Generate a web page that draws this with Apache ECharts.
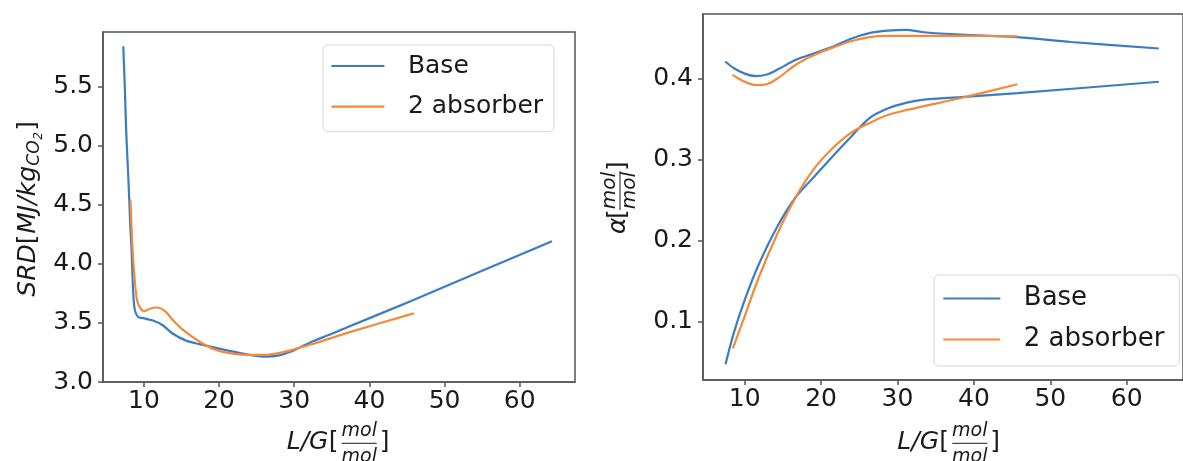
<!DOCTYPE html>
<html>
<head>
<meta charset="utf-8">
<script src="https://cdn.jsdelivr.net/npm/echarts@6/dist/echarts.min.js"></script>
<style>
  html, body { margin: 0; padding: 0; background: #fff; }
  #chart { width: 1183px; height: 461px; }
</style>
</head>
<body>
<div id="chart"></div>
<script>
// legend names
const seriesNames = ["Base", "2 absorber"];

// tick labels
const xTicks = [10, 20, 30, 40, 50, 60];
const srdTicks = [3.0, 3.5, 4.0, 4.5, 5.0, 5.5];
const alphaTicks = [0.1, 0.2, 0.3, 0.4];

// left panel: SRD vs L/G
const srdBase = [
  [7.25, 5.84], [7.45, 5.5], [7.63, 5.13], [7.94, 4.70], [8.21, 4.28], [8.34, 4.14],
  [8.55, 3.78], [8.78, 3.61], [9.22, 3.55], [9.89, 3.54], [11.2, 3.52], [12.5, 3.48],
  [13.8, 3.41], [15.6, 3.35], [17.4, 3.32], [20.9, 3.27], [24.0, 3.23], [26.2, 3.215],
  [28.0, 3.225], [29.5, 3.255], [31.0, 3.30], [32.5, 3.345], [34.5, 3.395], [37.3, 3.47],
  [45.0, 3.67], [55.0, 3.94], [64.3, 4.19]
];
const srdTwoAbs = [
  [8.2, 4.54], [8.47, 4.14], [8.78, 3.86], [9.09, 3.69], [9.67, 3.61], [10.1, 3.60],
  [10.8, 3.62], [11.7, 3.63], [12.8, 3.60], [13.9, 3.52], [15.2, 3.44], [17.4, 3.34],
  [19.6, 3.27], [21.8, 3.24], [24.0, 3.23], [26.2, 3.23], [28.4, 3.25], [30.7, 3.29],
  [32.9, 3.33], [37.3, 3.42], [45.9, 3.58]
];

// right panel: loading vs L/G (upper = rich, lower = lean)
const alphaBaseRich = [
  [7.46, 0.421], [8.56, 0.413], [10.0, 0.406], [11.44, 0.403], [12.9, 0.405], [14.3, 0.411],
  [16.7, 0.423], [19.1, 0.431], [21.5, 0.439], [23.9, 0.449], [26.3, 0.456], [28.7, 0.459],
  [31.1, 0.460], [33.5, 0.457], [38.3, 0.454], [45.7, 0.451], [52.7, 0.445], [64.2, 0.437]
];
const alphaTwoRich = [
  [8.42, 0.4045], [10.0, 0.396], [11.44, 0.392], [12.9, 0.393], [14.3, 0.400], [16.7, 0.417],
  [19.1, 0.429], [21.5, 0.438], [23.9, 0.446], [26.3, 0.451], [28.7, 0.4526], [31.1, 0.4526],
  [38.3, 0.4526], [45.7, 0.452]
];
const alphaBaseLean = [
  [7.5, 0.048], [8.56, 0.086], [10.0, 0.127], [11.9, 0.172], [14.3, 0.218], [16.7, 0.254],
  [19.1, 0.279], [21.5, 0.304], [23.9, 0.328], [26.3, 0.351], [28.7, 0.363], [31.1, 0.370],
  [33.5, 0.374], [38.3, 0.377], [45.7, 0.382], [64.2, 0.396]
];
const alphaTwoLean = [
  [8.46, 0.0675], [10.0, 0.107], [11.9, 0.156], [14.3, 0.209], [16.7, 0.254], [19.1, 0.289],
  [21.5, 0.314], [23.9, 0.333], [26.3, 0.345], [28.7, 0.355], [31.1, 0.361], [33.5, 0.366],
  [38.3, 0.376], [45.7, 0.393]
];

const FONT = "DejaVu Sans";
const BLUE = "#3b7dc2";
const ORANGE = "#f5893a";
const SPINE = "#555";
const INK = "#1a1a1a";

function xAxisOf(idx) {
  return {
    type: "value", gridIndex: idx, min: 4.55, max: 67.36,
    axisLine: { show: true, lineStyle: { color: SPINE, width: 1.5 } },
    axisTick: { show: true, length: 5, lineStyle: { color: SPINE, width: 1.5 }, customValues: xTicks },
    axisLabel: { customValues: xTicks, fontSize: 25, fontFamily: FONT, color: INK, margin: 7 },
    splitLine: { show: false }
  };
}

function yAxisOf(idx, min, max, ticks) {
  return {
    type: "value", gridIndex: idx, min: min, max: max,
    axisLine: { show: true, lineStyle: { color: SPINE, width: 1.5 } },
    axisTick: { show: true, length: 5, lineStyle: { color: SPINE, width: 1.5 }, customValues: ticks },
    axisLabel: {
      customValues: ticks, fontSize: 25, fontFamily: FONT, color: INK, margin: 10,
      formatter: function (v) { return v.toFixed(1); }
    },
    splitLine: { show: false }
  };
}

function lineOf(name, data, color, idx) {
  return {
    name: name, type: "line", xAxisIndex: idx, yAxisIndex: idx,
    data: data, symbol: "none", smooth: 0.3,
    lineStyle: { width: 2.2, color: color }, itemStyle: { color: color },
    emphasis: { disabled: true }
  };
}

function legendOf(left, top, size, lineW, gap, pad) {
  return {
    left: left, top: top, orient: "vertical", data: seriesNames,
    icon: "rect", itemWidth: lineW, itemHeight: 2.2, itemGap: gap, padding: pad,
    selectedMode: false,
    textStyle: { fontSize: size, lineHeight: size + 5, fontFamily: FONT, color: INK, padding: [0, 0, 0, 18.5] },
    backgroundColor: "rgba(255,255,255,0.8)", borderColor: "#d6d6d6", borderWidth: 1, borderRadius: 5
  };
}

function txt(x, y, text, size, italic, align) {
  return {
    type: "text", x: x, y: y, silent: true,
    style: {
      text: text, fontSize: size, fontFamily: FONT, fontStyle: italic ? "italic" : "normal",
      fill: INK, align: align || "left", verticalAlign: "middle"
    }
  };
}

function rule(x1, x2, y) {
  return { type: "line", silent: true, shape: { x1: x1, y1: y, x2: x2, y2: y }, style: { stroke: INK, lineWidth: 1 } };
}

// "L/G[mol/mol]" title, origin on the baseline
function lgTitle(x, y) {
  return {
    type: "group", x: x, y: y,
    children: [
      txt(0, -7.5, "L/G", 25, true),
      txt(42, -7.5, "[", 25, false),
      txt(72.5, -18.7, "mol", 19, true, "center"),
      rule(55, 90, -6.7),
      txt(72.5, 6.7, "mol", 19, true, "center"),
      txt(93, -7.5, "]", 25, false)
    ]
  };
}

const chart = echarts.init(document.getElementById("chart"));
chart.setOption({
  animation: false,
  backgroundColor: "#fff",
  grid: [
    { left: 103, top: 32, width: 472, height: 350, show: true, borderColor: SPINE, borderWidth: 1.5, backgroundColor: "transparent" },
    { left: 703, top: 14, width: 495, height: 366, show: true, borderColor: SPINE, borderWidth: 1.5, backgroundColor: "transparent" }
  ],
  xAxis: [xAxisOf(0), xAxisOf(1)],
  yAxis: [yAxisOf(0, 3.0, 5.96, srdTicks), yAxisOf(1, 0.0285, 0.4795, alphaTicks)],
  legend: [
    legendOf(323, 45, 25, 53, 10.7, [6, 11, 10, 8.4]),
    legendOf(934, 275, 26, 57, 10, [8, 15, 11, 9.3])
  ],
  series: [
    lineOf(seriesNames[0], srdBase, BLUE, 0),
    lineOf(seriesNames[1], srdTwoAbs, ORANGE, 0),
    lineOf(seriesNames[0], alphaBaseRich, BLUE, 1),
    lineOf(seriesNames[0], alphaBaseLean, BLUE, 1),
    lineOf(seriesNames[1], alphaTwoRich, ORANGE, 1),
    lineOf(seriesNames[1], alphaTwoLean, ORANGE, 1)
  ],
  graphic: [
    lgTitle(286.7, 450),
    lgTitle(897.3, 450),
    {
      // SRD[MJ/kg_CO2]
      type: "group", x: 36, y: 296.7, rotation: Math.PI / 2,
      children: [
        txt(0, -7.5, "SRD", 25, true),
        txt(52.5, -7.5, "[", 25, false),
        txt(63, -7.5, "MJ/kg", 25, true),
        txt(131, -1.4, "CO", 17, true),
        txt(157, 3, "2", 12, true),
        txt(166, -7.5, "]", 25, false)
      ]
    },
    {
      // α[mol/mol]
      type: "group", x: 626, y: 234, rotation: Math.PI / 2,
      children: [
        txt(0, -7.5, "α", 25, true),
        txt(15, -7.5, "[", 25, false),
        txt(43.5, -16.5, "mol", 20, true, "center"),
        rule(24, 63, -6),
        txt(43.5, 4, "mol", 20, true, "center"),
        txt(63, -7.5, "]", 25, false)
      ]
    }
  ]
});
</script>
</body>
</html>
